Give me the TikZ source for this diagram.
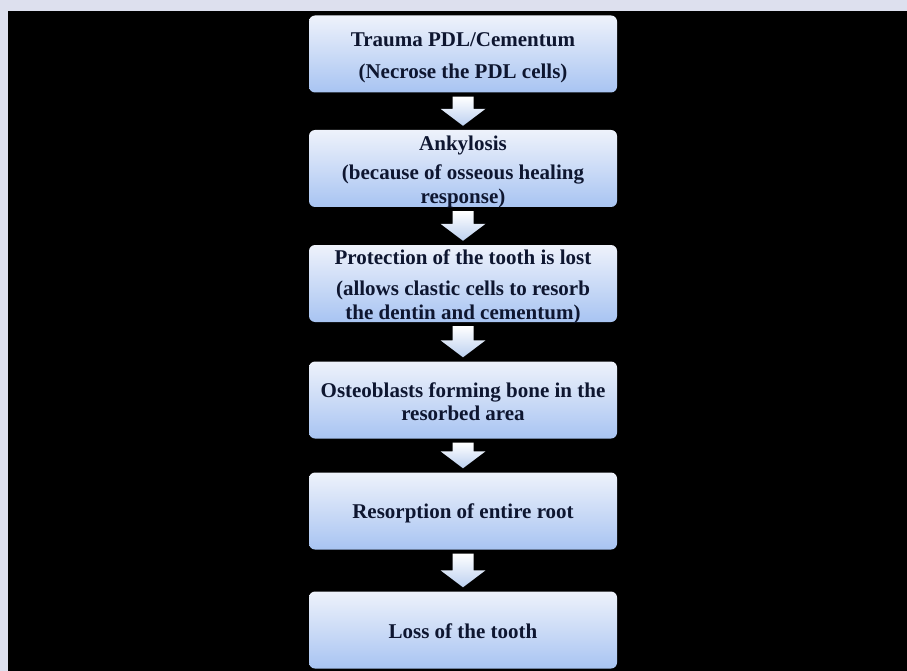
\documentclass[tikz,border=0pt]{standalone}
\usepackage{fontspec}
\setmainfont{Liberation Serif}
\usetikzlibrary{calc}
\definecolor{frame}{HTML}{DDE0EE}
\definecolor{boxtop}{HTML}{EEF2FB}
\definecolor{boxbot}{HTML}{A8C4F2}
\definecolor{arrtop}{HTML}{FFFFFF}
\definecolor{arrbot}{HTML}{BCD0F0}
\definecolor{txt}{HTML}{0E1630}
\tikzset{
  stepbox/.style={rectangle, rounded corners=6pt, minimum width=308pt, minimum height=77pt,
    inner sep=0pt, top color=boxtop, bottom color=boxbot, draw=none},
  steptext/.style={inner sep=0pt, align=center, text=txt,
    font=\fontsize{21}{23.5}\selectfont\bfseries},
  arrowfill/.style={top color=arrtop, bottom color=arrbot, draw=none}
}
\newcommand{\blockarrow}[2]{%
  \path[arrowfill] let \p1=(#1.south), \p2=(#2.north), \n1={\y1-4pt}, \n2={\y2+4pt}, \n3={\y2+21pt} in
    (\x1-10.5pt,\n1) -- (\x1+10.5pt,\n1) -- (\x1+10.5pt,\n3) -- (\x1+22.5pt,\n3) --
    (\x1,\n2) -- (\x1-22.5pt,\n3) -- (\x1-10.5pt,\n3) -- cycle;}
\begin{document}
\begin{tikzpicture}[x=1pt,y=-1pt]
\fill[frame] (0,0) rectangle (907,671);
\useasboundingbox (0,0) rectangle (907,671);
\fill[black] (8,11) rectangle (907,671);
\node[stepbox] (b1) at (463,54) {};
\node[stepbox] (b2) at (463,168.5) {};
\node[stepbox] (b3) at (463,283.5) {};
\node[stepbox] (b4) at (463,400) {};
\node[stepbox] (b5) at (463,511) {};
\node[stepbox] (b6) at (463,630) {};
\node[steptext] (t1) at ([yshift=-4pt]b1.center) {Trauma PDL/Cementum\\[8pt](Necrose the PDL cells)};
\node[steptext] (t2) at ([yshift=-3pt]b2.center) {Ankylosis\\[6pt](because of osseous healing\\response)};
\node[steptext] (t3) at ([yshift=-3pt]b3.center) {Protection of the tooth is lost\\[8pt](allows clastic cells to resorb\\the dentin and cementum)};
\node[steptext] (t4) at ([yshift=-1.5pt]b4.center) {Osteoblasts forming bone in the\\resorbed area};
\node[steptext] (t5) at ([yshift=-2.5pt]b5.center) {Resorption of entire root};
\node[steptext] (t6) at ([yshift=-1pt]b6.center) {Loss of the tooth};
\blockarrow{b1}{b2}
\blockarrow{b2}{b3}
\blockarrow{b3}{b4}
\blockarrow{b4}{b5}
\blockarrow{b5}{b6}
\end{tikzpicture}
\end{document}
